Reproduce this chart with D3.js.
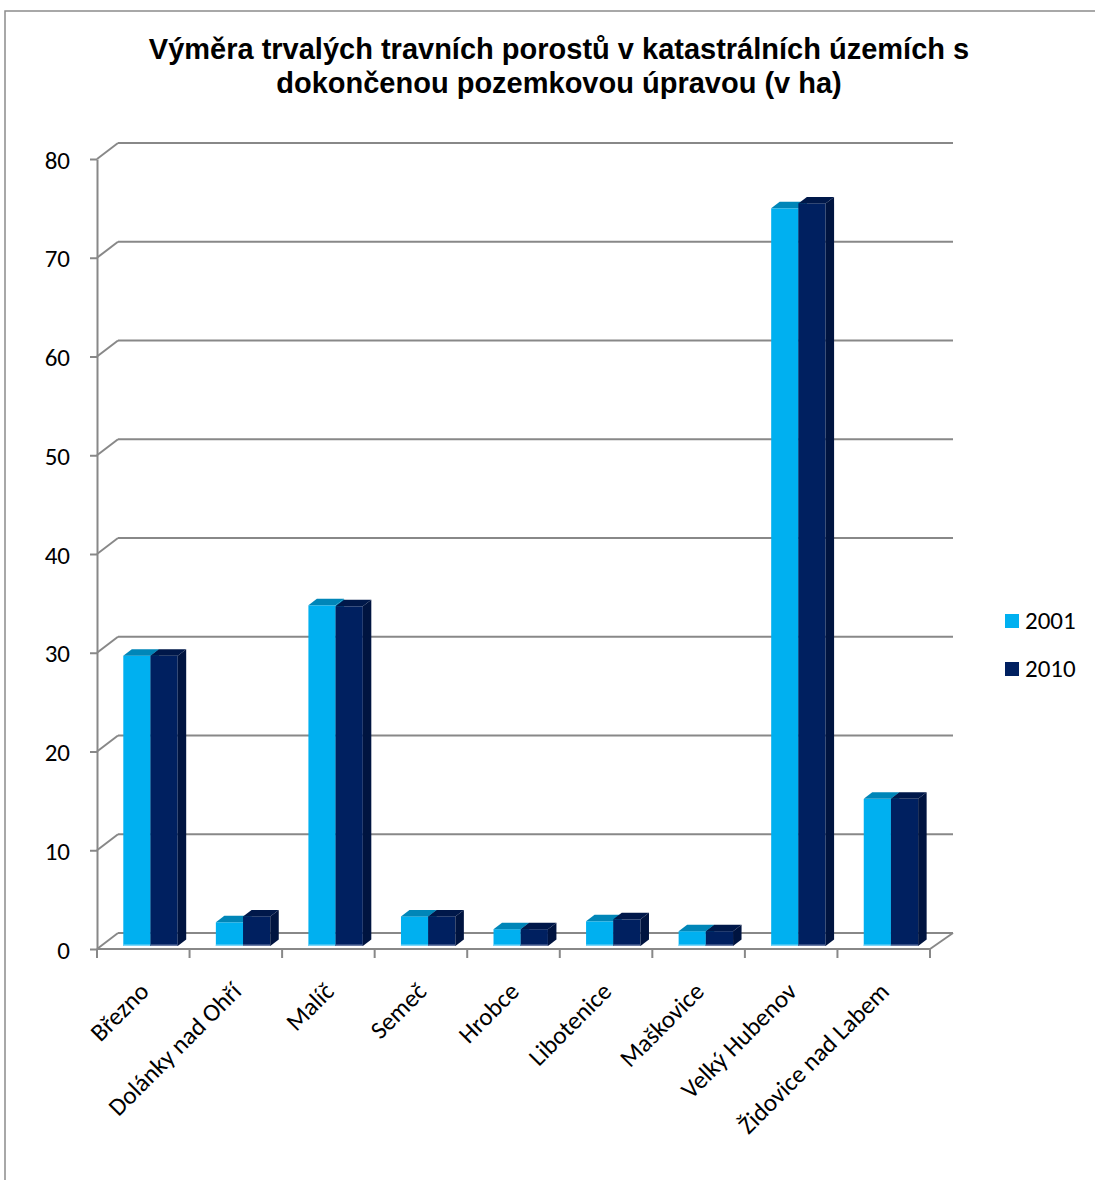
<!DOCTYPE html>
<html lang="cs">
<head>
<meta charset="utf-8">
<script src="https://cdn.jsdelivr.net/npm/d3@7"></script>
<style>
  html, body { margin: 0; padding: 0; background: #ffffff; }
  svg { display: block; }
  .lbl { font-family: Calibri, Carlito, "Open Sans", sans-serif; font-size: 25px; fill: #000; }
  .title { font-family: "Liberation Sans", Arial, sans-serif; font-weight: bold; font-size: 29px; fill: #000; }
</style>
</head>
<body>
<script>
// Výměra trvalých travních porostů (ha) – katastrální území s dokončenou pozemkovou úpravou
const categories = ["Březno", "Dolánky nad Ohří", "Malíč", "Semeč", "Hrobce",
                    "Libotenice", "Maškovice", "Velký Hubenov", "Židovice nad Labem"];
const years = ["2001", "2010"];
const values2001 = [29.4, 2.4, 34.5, 3.0, 1.7, 2.5, 1.5, 74.7, 14.9];
const values2010 = [29.4, 3.0, 34.4, 3.0, 1.7, 2.7, 1.5, 75.2, 14.9];
const yTicks = [0, 10, 20, 30, 40, 50, 60, 70, 80];

const W = 1095, H = 1180;
const svg = d3.select("body").append("svg").attr("width", W).attr("height", H);

// outer chart frame
svg.append("rect").attr("x", 5).attr("y", 11).attr("width", W + 20).attr("height", H + 20)
  .attr("fill", "none").attr("stroke", "#8c8c8c").attr("stroke-width", 1.5);

// title
const title = svg.append("text").attr("class", "title").attr("text-anchor", "middle");
title.append("tspan").attr("x", 559).attr("y", 59).text("Výměra trvalých travních porostů v katastrálních územích s");
title.append("tspan").attr("x", 559).attr("y", 93).text("dokončenou pozemkovou úpravou (v ha)");

// 3D projection: front plane scales plus an oblique depth offset
const depth = { dx: 21, dy: -16 };          // full floor depth
const barDepth = { dx: 8.5, dy: -6.5 };     // depth of a single column
const barInset = -3;                        // columns start slightly behind the front edge

const x = d3.scaleBand().domain(categories).range([97, 930]).paddingInner(0).paddingOuter(0);
const xs = d3.scaleBand().domain(years).range([26.3, 80.7]);
const y = d3.scaleLinear().domain([0, 80]).range([949, 159]);

const grid = "#888888";
const g = svg.append("g");

// back wall gridlines and left wall diagonals
yTicks.forEach(v => {
  const yf = y(v), yb = y(v) + depth.dy;
  g.append("line").attr("x1", 97 + depth.dx).attr("x2", 953).attr("y1", yb).attr("y2", yb)
    .attr("stroke", grid).attr("stroke-width", 2);
  g.append("line").attr("x1", 97).attr("y1", yf).attr("x2", 97 + depth.dx).attr("y2", yb)
    .attr("stroke", grid).attr("stroke-width", 2);
});

// floor front edge and right edge
g.append("line").attr("x1", 97).attr("x2", 930).attr("y1", y(0)).attr("y2", y(0))
  .attr("stroke", grid).attr("stroke-width", 2);
g.append("line").attr("x1", 930).attr("y1", y(0)).attr("x2", 953).attr("y2", y(0) + depth.dy)
  .attr("stroke", grid).attr("stroke-width", 2);

// category tick marks at band boundaries
const bounds = categories.map(c => x(c)).concat([x(categories[categories.length - 1]) + x.bandwidth()]);
bounds.forEach(b => {
  g.append("line").attr("x1", b).attr("x2", b).attr("y1", y(0)).attr("y2", y(0) + 9)
    .attr("stroke", grid).attr("stroke-width", 2);
});

// value axis on the front-left edge
const yAxis = d3.axisLeft(y).tickValues(yTicks).tickSize(7).tickSizeOuter(0).tickPadding(20);
const ya = svg.append("g").attr("transform", "translate(97,0)").call(yAxis);
ya.select(".domain").attr("stroke", grid).attr("stroke-width", 2);
ya.selectAll(".tick line").attr("stroke", grid).attr("stroke-width", 2);
ya.selectAll(".tick text").attr("class", "lbl").attr("dy", "0.36em").attr("fill", "#000")
  .attr("font-family", null).attr("font-size", null);

// columns
const styles = {
  "2001": { front: "#00B0F0", top: "#0086B8", side: "#0086B8", foot: "#7FD6F6" },
  "2010": { front: "#002060", top: "#00184A", side: "#001440", foot: "#6C7DA6" }
};
const series = { "2001": values2001, "2010": values2010 };
const bars = svg.append("g");
categories.forEach((c, i) => {
  years.forEach(yr => {
    const v = series[yr][i];
    const st = styles[yr];
    const x0 = x(c) + xs(yr), w = xs.bandwidth();
    const yb = y(0) + barInset, yt = y(v) + barInset;
    const grp = bars.append("g");
    // front face
    grp.append("rect").attr("x", x0).attr("y", yt).attr("width", w).attr("height", yb - yt).attr("fill", st.front);
    // bottom highlight
    grp.append("rect").attr("x", x0).attr("y", yb - 1.5).attr("width", w).attr("height", 1.5).attr("fill", st.foot);
    // top face
    grp.append("path").attr("fill", st.top).attr("d",
      `M${x0},${yt} L${x0 + w},${yt} L${x0 + w + barDepth.dx},${yt + barDepth.dy} L${x0 + barDepth.dx},${yt + barDepth.dy} Z`);
    // right side face
    grp.append("path").attr("fill", st.side).attr("d",
      `M${x0 + w},${yt} L${x0 + w + barDepth.dx},${yt + barDepth.dy} L${x0 + w + barDepth.dx},${yb + barDepth.dy} L${x0 + w},${yb} Z`);
  });
});

// rotated category labels
const cl = svg.append("g");
categories.forEach(c => {
  const cx = x(c) + x.bandwidth() / 2 + 7, cy = 993;
  cl.append("text").attr("class", "lbl").attr("text-anchor", "end")
    .attr("transform", `translate(${cx},${cy}) rotate(-45)`).text(c);
});

// legend
const legend = svg.append("g");
years.forEach((yr, i) => {
  const ly = 614 + i * 48;
  legend.append("rect").attr("x", 1005).attr("y", ly).attr("width", 14).attr("height", 14)
    .attr("fill", styles[yr].front);
  legend.append("text").attr("class", "lbl").attr("x", 1025).attr("y", ly + 15).text(yr);
});
</script>
</body>
</html>
